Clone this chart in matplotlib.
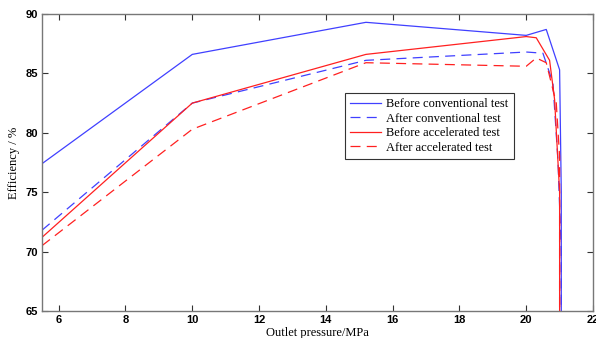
import matplotlib
matplotlib.use("Agg")
import matplotlib.pyplot as plt

x_bc = [5.5, 10.0, 15.2, 20.0, 20.6, 21.0, 21.05, 21.05]
y_bc = [77.4, 86.6, 89.3, 88.2, 88.7, 85.3, 75.0, 65.0]

x_ac = [5.5, 10.0, 15.2, 20.0, 20.5, 20.8, 20.95, 21.05, 21.05]
y_ac = [71.8, 82.5, 86.1, 86.8, 86.7, 84.2, 77.7, 70.0, 65.0]

x_ba = [5.5, 10.0, 15.2, 20.0, 20.3, 20.7, 20.85, 21.0, 21.0]
y_ba = [71.2, 82.5, 86.6, 88.1, 88.0, 86.1, 82.8, 75.0, 65.0]

x_aa = [5.5, 10.0, 15.2, 20.0, 20.3, 20.6, 20.9, 21.0, 21.0]
y_aa = [70.5, 80.3, 85.9, 85.6, 86.3, 85.9, 82.5, 78.0, 65.0]

labels = ["Before conventional test", "After conventional test",
          "Before accelerated test", "After accelerated test"]

fig = plt.figure(figsize=(5.96, 3.38), dpi=100)
ax = fig.add_axes([42/596, 27/338, 551/596, 297/338])
ax.plot(x_bc, y_bc, color="#4040ff", lw=0.9, label=labels[0])
ax.plot(x_ac, y_ac, color="#4040ff", lw=0.9, ls=(0, (8, 5)), label=labels[1])
ax.plot(x_ba, y_ba, color="#ff2020", lw=0.9, label=labels[2])
ax.plot(x_aa, y_aa, color="#ff2020", lw=0.9, ls=(0, (8, 5)), label=labels[3])

ax.set_xlim(5.5, 22)
ax.set_ylim(65, 90)
ax.set_xticks([6, 8, 10, 12, 14, 16, 18, 20, 22])
ax.set_yticks([65, 70, 75, 80, 85, 90])
ax.tick_params(direction="in", length=4, width=0.8, color="#333333", top=True, right=True,
               labelsize=8, pad=3)
for lab in ax.get_xticklabels() + ax.get_yticklabels():
    lab.set_fontweight("bold")
    lab.set_family("Liberation Sans")
for s in ax.spines.values():
    s.set_color("#777777")
    s.set_linewidth(1.0)

ax.set_xlabel("Outlet pressure/MPa", family="Liberation Serif", fontsize=9, labelpad=1)
ax.set_ylabel("Efficiency / %", family="Liberation Serif", fontsize=9, labelpad=4)

leg = ax.legend(loc="upper left", bbox_to_anchor=(0.55, 0.734), borderaxespad=0,
                fancybox=False, framealpha=1, edgecolor="#333333",
                prop={"family": "Liberation Serif", "size": 9},
                handlelength=2.5, handletextpad=0.4, labelspacing=0.2,
                borderpad=0.4)
leg.get_frame().set_linewidth(0.8)

fig.savefig("out.png", dpi=100)
